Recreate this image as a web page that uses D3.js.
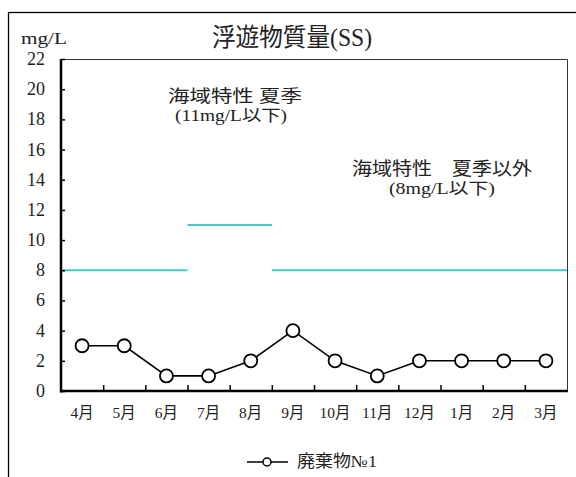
<!DOCTYPE html>
<html><head><meta charset="utf-8">
<script src="https://cdn.jsdelivr.net/npm/d3@7"></script>
<style>
body{margin:0;background:#fff;}
svg{display:block;font-family:"Liberation Serif","DejaVu Serif","Noto Sans CJK JP",serif;}
</style></head>
<body><svg id="c" width="576" height="477"></svg>
<script>
const months = ["4月","5月","6月","7月","8月","9月","10月","11月","12月","1月","2月","3月"];
const values = [3,3,1,1,2,4,2,1,2,2,2,2];
const yTicks = [0,2,4,6,8,10,12,14,16,18,20,22];
// standard segments: [start category index, end category index (exclusive), value]
const stdSegments = [[0,3,8],[3,5,11],[5,12,8]];
const seriesName = "廃棄物№1";
const title = "浮遊物質量(SS)";
const unit = "mg/L";
const noteSummer = ["海域特性 夏季","(11mg/L以下)"];
const noteOther = ["海域特性　夏季以外","(8mg/L以下)"];

const svg = d3.select("#c");
const m = {l:61, r:567, t:59, b:391};
const x = d3.scaleBand().domain(months).range([m.l, m.r]);
const xe = d3.scaleLinear().domain([0, months.length]).range([m.l, m.r]);
const y = d3.scaleLinear().domain([0,22]).range([m.b, m.t]);

// outer frame
svg.append("rect").attr("x",8.5).attr("y",12.5).attr("width",600).attr("height",500)
  .attr("fill","none").attr("stroke","#000").attr("stroke-width",1.3);

// plot frame (top & right)
svg.append("path").attr("d",`M${m.l},${m.t+0.5}H${m.r+0.5}V${m.b}`)
  .attr("fill","none").attr("stroke","#333").attr("stroke-width",1);

// standard lines
svg.selectAll("line.std").data(stdSegments).enter().append("line")
  .attr("x1",d=>xe(d[0])).attr("x2",d=>xe(d[1]))
  .attr("y1",d=>y(d[2])).attr("y2",d=>y(d[2]))
  .attr("stroke","#3fcccc").attr("stroke-width",2);

// y axis
const ya = svg.append("g").attr("transform",`translate(${m.l},0)`)
  .call(d3.axisRight(y).tickValues(yTicks).tickSize(4).tickFormat(""));
ya.select(".domain").remove();
ya.selectAll("line").attr("stroke","#000").attr("stroke-width",1.5);
svg.selectAll("text.yl").data(yTicks).enter().append("text")
  .attr("x",45).attr("y",d=>y(d)+6).attr("text-anchor","end")
  .attr("font-size",18).attr("fill","#222").text(d=>d);

// x axis
const xa = svg.append("g").attr("transform",`translate(0,${m.b})`)
  .call(d3.axisTop(xe).tickValues(d3.range(1,months.length)).tickSize(6).tickFormat(""));
xa.select(".domain").remove();
xa.selectAll("line").attr("stroke","#000").attr("stroke-width",1.5);
svg.selectAll("text.xl").data(months).enter().append("text")
  .attr("x",d=>x(d)+x.bandwidth()/2).attr("y",418).attr("text-anchor","middle")
  .attr("font-size",15.5).attr("fill","#222").text(d=>d);

// axis lines
svg.append("line").attr("x1",m.l).attr("x2",m.l).attr("y1",m.t).attr("y2",m.b+1.5)
  .attr("stroke","#000").attr("stroke-width",2.5);
svg.append("line").attr("x1",m.l).attr("x2",m.r+1).attr("y1",m.b).attr("y2",m.b)
  .attr("stroke","#000").attr("stroke-width",2.5);

// series
const pts = months.map((mo,i)=>[x(mo)+x.bandwidth()/2, y(values[i])]);
svg.append("path").attr("d",d3.line()(pts)).attr("fill","none")
  .attr("stroke","#000").attr("stroke-width",1.6);
svg.selectAll("circle.pt").data(pts).enter().append("circle")
  .attr("cx",d=>d[0]).attr("cy",d=>d[1]).attr("r",6.5)
  .attr("fill","#fff").attr("stroke","#000").attr("stroke-width",1.8);

function txt(s, cx, by, size, w){
  svg.append("text").attr("x",cx - w/2).attr("y",by)
    .attr("font-size",size).attr("fill","#222")
    .attr("textLength",w).attr("lengthAdjust","spacingAndGlyphs").text(s);
}
// texts
txt(title, 292, 46, 25, 160);
txt(unit, 44, 44, 17, 46);
txt(noteSummer[0], 235, 102, 17, 134);
txt(noteSummer[1], 231, 121, 16, 112);
txt(noteOther[0], 442, 175, 18, 180);
txt(noteOther[1], 442, 194, 16, 106);

// legend
svg.append("line").attr("x1",247).attr("x2",288).attr("y1",462).attr("y2",462)
  .attr("stroke","#000").attr("stroke-width",1.6);
svg.append("circle").attr("cx",267).attr("cy",462).attr("r",4)
  .attr("fill","#fff").attr("stroke","#000").attr("stroke-width",1.5);
txt(seriesName, 337, 467, 17, 80);
</script></body></html>
